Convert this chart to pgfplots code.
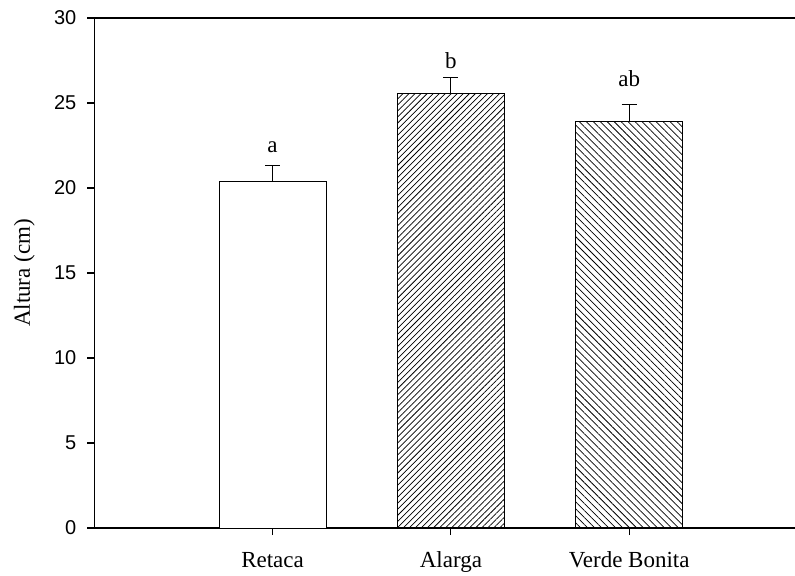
\documentclass[border=0pt]{standalone}
\usepackage{pgfplots}
\pgfplotsset{compat=1.18}
\usepackage{fontspec}
\setmainfont{Liberation Serif}
\newfontfamily\arialfont{Liberation Sans}
\usetikzlibrary{patterns.meta}
\begin{document}
\begin{tikzpicture}
\begin{axis}[
  scale only axis,
  width=525.5pt, height=382.5pt,
  xmin=0, xmax=3.93,
  ymin=0, ymax=30,
  axis lines=left,
  axis line style={-, line width=1pt},
  ytick={0,5,10,15,20,25,30},
  xtick={1,2,3},
  xticklabels={Retaca, Alarga, Verde Bonita},
  tick align=outside,
  major tick length=5.25pt,
  tick style={line width=0.9pt, black},
  minor tick num=0,
  /pgf/number format/assume math mode=true,
  yticklabel style={font=\arialfont\fontsize{15}{18}\selectfont, inner sep=0pt, xshift=-8pt},
  xticklabel style={font=\fontsize{17.25}{20}\selectfont, anchor=base, inner sep=0pt, yshift=-24pt},
  ylabel={Altura (cm)},
  every axis y label/.style={at={([xshift=-52.5pt]rel axis cs:0,0.5)}, rotate=90, anchor=center, font=\fontsize{17.25}{20}\selectfont},
  ybar,
  bar width=0.6,
  bar shift=0pt,
  clip=false,
]
\addplot[fill=white, draw=black, line width=0.75pt,
  error bars/.cd, y dir=plus, y explicit,
  error bar style={line width=0.75pt, black},
  error mark options={rotate=90, mark size=5.6pt, line width=0.75pt, black}]
  coordinates {(1,20.37) +- (0,0.94)};
\addplot[pattern={Lines[angle=45, distance=3.2pt, line width=0.55pt]}, pattern color=black, draw=black, line width=0.75pt,
  error bars/.cd, y dir=plus, y explicit,
  error bar style={line width=0.75pt, black},
  error mark options={rotate=90, mark size=5.6pt, line width=0.75pt, black}]
  coordinates {(2,25.53) +- (0,0.96)};
\addplot[pattern={Lines[angle=-45, distance=3.7pt, line width=0.55pt]}, pattern color=black, draw=black, line width=0.75pt,
  error bars/.cd, y dir=plus, y explicit,
  error bar style={line width=0.75pt, black},
  error mark options={rotate=90, mark size=5.6pt, line width=0.75pt, black}]
  coordinates {(3,23.92) +- (0,1.0)};
\draw[line width=1pt] (rel axis cs:0,1) -- (rel axis cs:1,1);
\node[anchor=base, font=\fontsize{17.25}{20}\selectfont, inner sep=0pt] at (axis cs:1,22.06) {a};
\node[anchor=base, font=\fontsize{17.25}{20}\selectfont, inner sep=0pt] at (axis cs:2,27.04) {b};
\node[anchor=base, font=\fontsize{17.25}{20}\selectfont, inner sep=0pt] at (axis cs:3,26.0) {ab};
\coordinate (ll) at (rel axis cs:0,0);
\coordinate (ur) at (rel axis cs:1,1);
\end{axis}
\pgfresetboundingbox
\path ([shift={(-70.7pt,-35.25pt)}]ll) rectangle ([yshift=13.5pt]ur);
\end{tikzpicture}
\end{document}
